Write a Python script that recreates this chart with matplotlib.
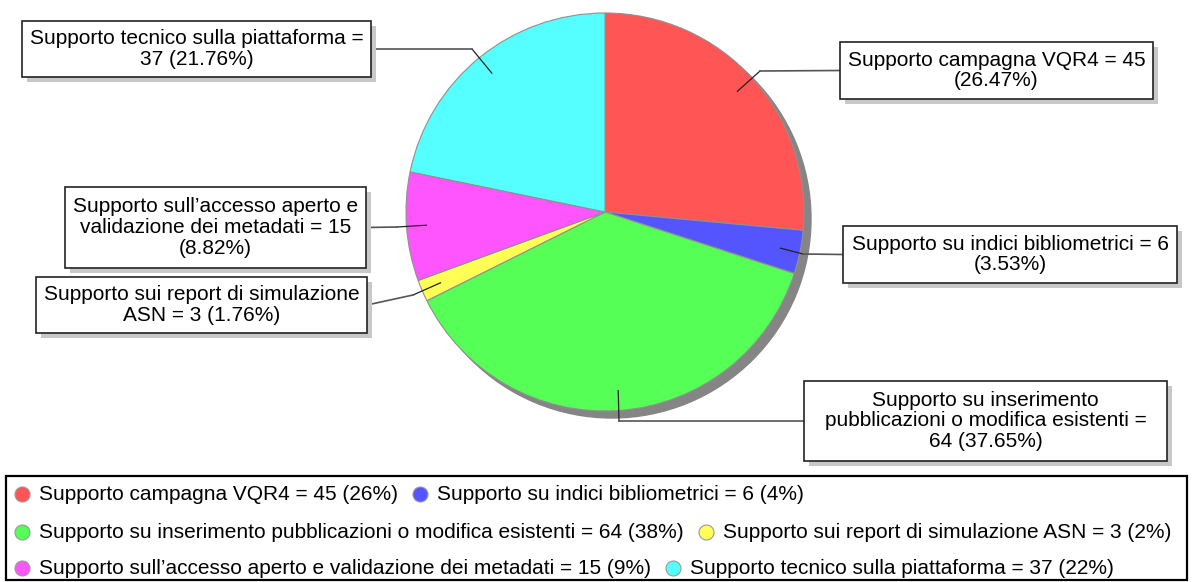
import textwrap
import numpy as np
import matplotlib.pyplot as plt
from matplotlib.patches import Rectangle, Circle

# data
labels = ["Supporto campagna VQR4",
          "Supporto su indici bibliometrici",
          "Supporto su inserimento pubblicazioni o modifica esistenti",
          "Supporto sui report di simulazione ASN",
          "Supporto sull’accesso aperto e validazione dei metadati",
          "Supporto tecnico sulla piattaforma"]
values = [45, 6, 64, 3, 15, 37]
colors = ["#FF5555", "#5555FF", "#55FF55", "#FFFF55", "#FF55FF", "#55FFFF"]

W, H = 1192, 582
plt.rcParams['font.family'] = ['Liberation Sans', 'DejaVu Sans']

fig = plt.figure(figsize=(W / 100, H / 100), dpi=100)
ax = fig.add_axes([0, 0, 1, 1])


def Y(y):  # pixel-from-top -> data y
    return H - y


total = sum(values)
pcts = [v / total * 100 for v in values]

# pie + drop shadow
cx, cy, r = 605, 212, 199
ax.add_patch(Circle((cx + 7, Y(cy + 7)), r, color='#858585', zorder=0))
wedges, _ = ax.pie(values, colors=colors, startangle=90, counterclock=False,
                   center=(cx, Y(cy)), radius=r,
                   wedgeprops=dict(edgecolor='#909090', linewidth=0.8))

# callout boxes (left, top, right, bottom) in pixels, and elbow points
boxes = [(840, 42, 1153, 99), (843, 226, 1177, 283), (804, 381, 1167, 461),
         (36, 277, 367, 333), (65, 187, 366, 268), (22, 21, 371, 77)]
wraps = [30, 36, 36, 34, 30, 36]
elbows = [(760, 71), (803, 254), (619, 421), (413, 295), (397, 227), (472, 49)]

for w, lab, v, p, box, wr, elb in zip(wedges, labels, values, pcts, boxes, wraps, elbows):
    l, t, rr, b = box
    # anchor inside the slice
    mid = np.deg2rad((w.theta1 + w.theta2) / 2)
    ax_, ay_ = cx + 0.9 * r * np.cos(mid), Y(cy) + 0.9 * r * np.sin(mid)
    ex, ey = elb[0], Y(elb[1])
    bx = l if l > cx else rr
    by = Y((t + b) / 2)
    ax.plot([ax_, ex], [ay_, ey], color='#222222', lw=0.9, zorder=3)
    ax.plot([ex, bx], [ey, by], color='#555555', lw=1.2, zorder=3)
    ax.add_patch(Rectangle((l + 5, Y(b + 5)), rr - l, b - t, fc='#c8c8c8', ec='none', zorder=4))
    ax.add_patch(Rectangle((l, Y(b)), rr - l, b - t, fc='white', ec='#222222', lw=1.2, zorder=5))
    txt = textwrap.fill(f"{lab} = {v} ({p:.2f}%)", wr)
    ax.text((l + rr) / 2, Y((t + b) / 2), txt, fontsize=15, ha='center', va='center',
            multialignment='center', linespacing=1.12, zorder=6)

ax.set_xlim(0, W)
ax.set_ylim(0, H)
ax.set_aspect('equal')
ax.axis('off')

# legend box
ax.add_patch(Rectangle((6, Y(580)), 1181, 580 - 476, fc='none', ec='black', lw=1.6, zorder=5))
rows_y = [494, 532, 568]
rows = [(0, 1), (2, 3), (4, 5)]
fig.canvas.draw()
renderer = fig.canvas.get_renderer()
for ry, idxs in zip(rows_y, rows):
    x = 22
    for i in idxs:
        ax.plot([x], [Y(ry)], marker='o', markersize=10.8, color=colors[i],
                markeredgecolor='#999999', markeredgewidth=0.8, zorder=6)
        t = ax.text(x + 17, Y(ry) - 1, f"{labels[i]} = {values[i]} ({pcts[i]:.0f}%)",
                    fontsize=15, ha='left', va='center', zorder=6)
        bb = t.get_window_extent(renderer)
        x = bb.x1 + 22

fig.savefig('out.png', dpi=100)
